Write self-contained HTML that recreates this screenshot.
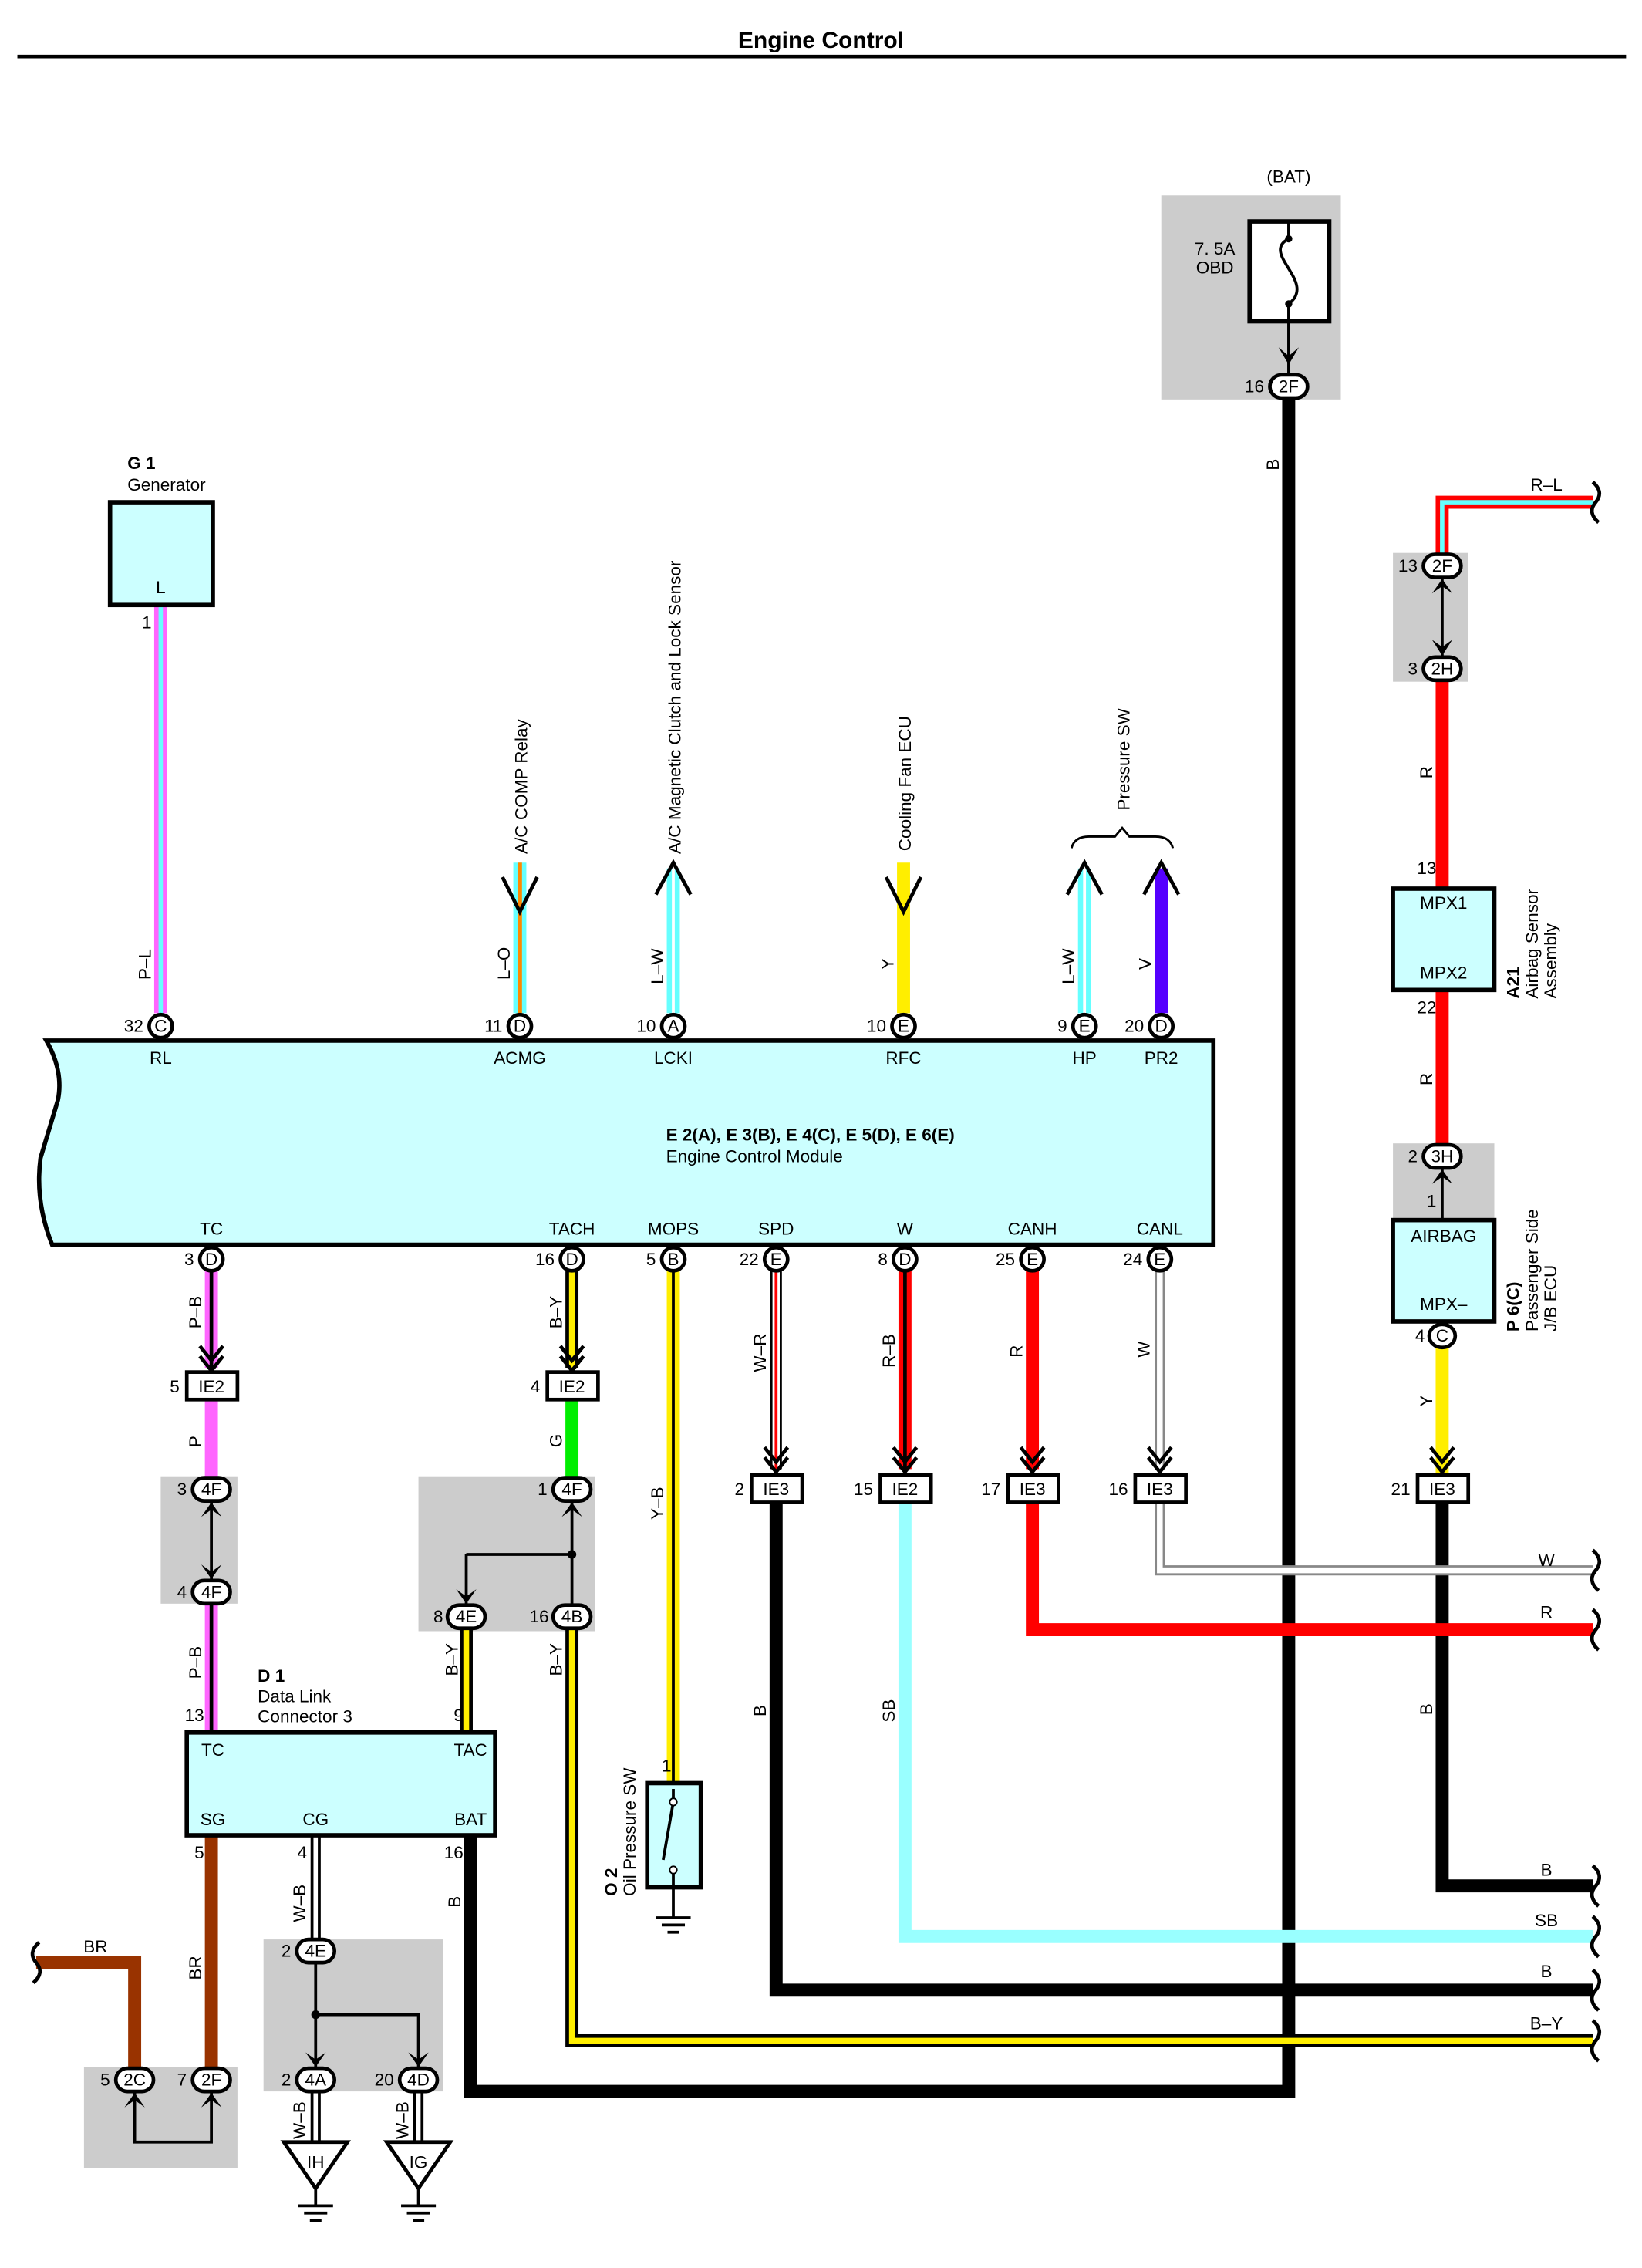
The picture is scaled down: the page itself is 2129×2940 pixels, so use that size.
<!DOCTYPE html>
<html><head><meta charset="utf-8"><style>
html,body{margin:0;padding:0;background:#fff;}
svg{display:block;}
text{font-family:"Liberation Sans",Arial,sans-serif;font-size:12px;fill:#000;}
.b{font-weight:bold;}
.m{text-anchor:middle;}
.pin{fill:#fff;stroke:#000;stroke-width:2.5;}
.box{fill:#ccffff;stroke:#000;stroke-width:3;}
.gray{fill:#cccccc;}
.ie{fill:#fff;stroke:#000;stroke-width:2.5;}
.ar{fill:none;stroke:#000;stroke-width:2.5;}
</style></head><body>
<svg width="2129" height="2940" viewBox="0 0 1134 1567" preserveAspectRatio="none" xmlns="http://www.w3.org/2000/svg">
<text x="567" y="33" class="b m" style="font-size:16px">Engine Control</text>
<line x1="12" y1="39" x2="1123" y2="39" stroke="#000" stroke-width="2.5"/>

<rect class="gray" x="802" y="135" width="124" height="141"/>
<rect class="gray" x="962" y="382" width="52" height="89"/>
<rect class="gray" x="962" y="790" width="70" height="52"/>
<rect class="gray" x="111" y="1020" width="53" height="88"/>
<rect class="gray" x="289" y="1020" width="122" height="107"/>
<rect class="gray" x="182" y="1340" width="124" height="105"/>
<rect class="gray" x="58" y="1428" width="106" height="70"/>

<g fill="none" stroke-linejoin="miter">
<path d="M890 272 V1445 H325 V1268" stroke="#000" stroke-width="9"/>
<path d="M1100 347 H996 V384" stroke="#ff0000" stroke-width="9"/>
<path d="M1100 347 H996 V384" stroke="#66ffff" stroke-width="3"/>
<path d="M996 470 V614 M996 684 V790" stroke="#ff0000" stroke-width="9"/>
<path d="M996 930 V1020" stroke="#ffee00" stroke-width="9"/>
<path d="M996 1036 V1303 H1100" stroke="#000" stroke-width="9"/>
<path d="M111 418 V700" stroke="#ff66ff" stroke-width="9"/>
<path d="M111 418 V700" stroke="#66ffff" stroke-width="3"/>
<path d="M359 596 V700" stroke="#66ffff" stroke-width="9"/>
<path d="M359 596 V700" stroke="#ff8800" stroke-width="3"/>
<path d="M465 600 V700 M749 600 V700" stroke="#66ffff" stroke-width="9"/>
<path d="M465 600 V700 M749 600 V700" stroke="#fff" stroke-width="2"/>
<path d="M624 596 V700" stroke="#ffee00" stroke-width="9"/>
<path d="M802 600 V700" stroke="#5500ff" stroke-width="9"/>
<path d="M146 878 V945 M146 1108 V1197" stroke="#ff66ff" stroke-width="9"/>
<path d="M146 878 V945 M146 1108 V1197" stroke="#000" stroke-width="2.5"/>
<path d="M146 967 V1020" stroke="#ff66ff" stroke-width="9"/>
<path d="M395 878 V945" stroke="#000" stroke-width="9"/>
<path d="M395 878 V945" stroke="#ffee00" stroke-width="4"/>
<path d="M395 967 V1020" stroke="#00ee00" stroke-width="9"/>
<path d="M322 1126 V1197 M395 1126 V1410 H1100" stroke="#000" stroke-width="9"/>
<path d="M322 1126 V1197 M395 1126 V1410 H1100" stroke="#ffee00" stroke-width="4"/>
<path d="M465 878 V1232" stroke="#ffee00" stroke-width="9"/>
<path d="M465 878 V1232" stroke="#000" stroke-width="2"/>
<path d="M536 878 V1015" stroke="#000" stroke-width="8"/>
<path d="M536 878 V1015" stroke="#fff" stroke-width="5"/>
<path d="M536 878 V1015" stroke="#ff0000" stroke-width="2"/>
<path d="M536 1036 V1375 H1100" stroke="#000" stroke-width="9"/>
<path d="M625 878 V1015" stroke="#ff0000" stroke-width="9"/>
<path d="M625 878 V1015" stroke="#000" stroke-width="2.5"/>
<path d="M625 1036 V1338 H1100" stroke="#99ffff" stroke-width="9"/>
<path d="M713 878 V1015 M713 1036 V1126 H1100" stroke="#ff0000" stroke-width="9"/>
<path d="M801 878 V1015 M801 1036 V1085 H1100" stroke="#888" stroke-width="7"/>
<path d="M801 878 V1015 M801 1036 V1085 H1100" stroke="#fff" stroke-width="4"/>
<path d="M146 1268 V1430 M93 1430 V1356 H25" stroke="#993300" stroke-width="9"/>
<path d="M218 1268 V1340 M218 1445 V1482 M289 1445 V1482" stroke="#000" stroke-width="7"/>
<path d="M218 1268 V1340 M218 1445 V1482 M289 1445 V1482" stroke="#fff" stroke-width="3"/>
<path d="M395 1038 V1108 M322 1074 H395 M322 1074 V1108" stroke="#000" stroke-width="2"/>
<path d="M218 1357 V1428 M218 1392 H289 V1428" stroke="#000" stroke-width="2"/>
<path d="M996 400 V453 M996 808 V843 M146 1038 V1091" stroke="#000" stroke-width="2"/>
<path d="M93 1446 V1480 H146 V1446" stroke="#000" stroke-width="2"/>
<path d="M890 222 V258" stroke="#000" stroke-width="2"/>
</g>
<circle cx="395" cy="1074" r="3"/><circle cx="218" cy="1392" r="3"/>

<g class="ar" stroke-width="2.5">
<path d="M347 606 L359 630 L371 606"/>
<path d="M612 606 L624 630 L636 606"/>
<path d="M453 618 L465 596 L477 618"/>
<path d="M737 618 L749 596 L761 618"/>
<path d="M790 618 L802 596 L814 618"/>
<path d="M740 586 Q742 578 752 578 H770 L775 572 L780 578 H798 Q808 578 810 586" stroke-width="1.5"/>
<path d="M138 930 L146 940 L154 930 M138 937 L146 947 L154 937"/>
<path d="M387 930 L395 940 L403 930 M387 937 L395 947 L403 937"/>
<path d="M528 1000 L536 1010 L544 1000 M528 1007 L536 1017 L544 1007"/>
<path d="M617 1000 L625 1010 L633 1000 M617 1007 L625 1017 L633 1007"/>
<path d="M705 1000 L713 1010 L721 1000 M705 1007 L713 1017 L721 1007"/>
<path d="M793 1000 L801 1010 L809 1000 M793 1007 L801 1017 L809 1007"/>
<path d="M988 1000 L996 1010 L1004 1000 M988 1007 L996 1017 L1004 1007"/>
</g>
<g fill="#000">
<path d="M883 240 L890 252 L897 240 L890 246Z"/>
<path d="M989 410 L996 400 L1003 410 L996 405Z M989 442 L996 453 L1003 442 L996 447Z"/>
<path d="M989 818 L996 808 L1003 818 L996 813Z"/>
<path d="M139 1048 L146 1038 L153 1048 L146 1043Z M139 1081 L146 1091 L153 1081 L146 1086Z"/>
<path d="M388 1048 L395 1038 L402 1048 L395 1043Z M315 1098 L322 1108 L329 1098 L322 1103Z"/>
<path d="M211 1418 L218 1428 L225 1418 L218 1423Z M282 1418 L289 1428 L296 1418 L289 1423Z"/>
<path d="M86 1456 L93 1446 L100 1456 L93 1451Z M139 1456 L146 1446 L153 1456 L146 1451Z"/>
</g>

<rect x="863" y="153" width="55" height="69" fill="#fff" stroke="#000" stroke-width="3"/>
<path d="M890 153 V165 M890 210 V222" stroke="#000" stroke-width="2"/>
<path d="M890 165 C 870 175, 910 195, 890 210" fill="none" stroke="#000" stroke-width="2"/>
<circle cx="890" cy="165" r="2.5"/><circle cx="890" cy="210" r="2.5"/>
<text x="890" y="126" class="m">(BAT)</text>
<text x="839" y="176" class="m">7. 5A</text><text x="839" y="189" class="m">OBD</text>

<path class="box" d="M32 719 H838 V860 H36 Q24 830 28 800 Q34 780 40 760 Q44 740 32 719Z"/>
<text x="460" y="788" class="b">E 2(A), E 3(B), E 4(C), E 5(D), E 6(E)</text>
<text x="460" y="803">Engine Control Module</text>
<g class="m">
<text x="111" y="735">RL</text><text x="359" y="735">ACMG</text><text x="465" y="735">LCKI</text>
<text x="624" y="735">RFC</text><text x="749" y="735">HP</text><text x="802" y="735">PR2</text>
<text x="146" y="853">TC</text><text x="395" y="853">TACH</text><text x="465" y="853">MOPS</text>
<text x="536" y="853">SPD</text><text x="625" y="853">W</text><text x="713" y="853">CANH</text><text x="801" y="853">CANL</text>
</g>

<rect class="box" x="76" y="347" width="71" height="71"/>
<text x="111" y="410" class="m">L</text>
<text x="88" y="324" class="b">G 1</text><text x="88" y="339">Generator</text>
<text x="98" y="434">1</text>
<rect class="box" x="962" y="614" width="70" height="70"/>
<text x="997" y="628" class="m">MPX1</text><text x="997" y="676" class="m">MPX2</text>
<rect class="box" x="962" y="843" width="70" height="70"/>
<text x="997" y="858" class="m">AIRBAG</text><text x="997" y="905" class="m">MPX–</text>
<rect class="box" x="129" y="1197" width="213" height="71"/>
<text x="147" y="1213" class="m">TC</text><text x="325" y="1213" class="m">TAC</text>
<text x="147" y="1261" class="m">SG</text><text x="218" y="1261" class="m">CG</text><text x="325" y="1261" class="m">BAT</text>
<text x="178" y="1162" class="b">D 1</text><text x="178" y="1176">Data Link</text><text x="178" y="1190">Connector 3</text>
<rect class="box" x="447" y="1232" width="37" height="72"/>
<path d="M465 1236 V1245 L458 1285 M465 1292 V1304 V1325" stroke="#000" stroke-width="2" fill="none"/>
<circle cx="465" cy="1245" r="2.5" fill="#fff" stroke="#000"/><circle cx="465" cy="1292" r="2.5" fill="#fff" stroke="#000"/>
<path d="M453 1325 H477 M457 1330 H473 M461 1335 H469" stroke="#000" stroke-width="2"/>
<text x="457" y="1224">1</text>
<text transform="translate(426 1310) rotate(-90)" class="b">O 2</text>
<text transform="translate(439 1310) rotate(-90)">Oil Pressure SW</text>
<g stroke="#000" stroke-width="2.5" fill="#fff">
<path d="M196 1480 H240 L218 1512Z"/><path d="M267 1480 H311 L289 1512Z"/>
</g>
<path d="M218 1512 V1524 M206 1524 H230 M210 1529 H226 M214 1534 H222 M289 1512 V1524 M277 1524 H301 M281 1529 H297 M285 1534 H293" stroke="#000" stroke-width="2"/>
<text x="218" y="1498" class="m">IH</text><text x="289" y="1498" class="m">IG</text>

<g fill="none" stroke="#000" stroke-width="2.5">
<path d="M1100 333 Q1108 340 1102 347 Q1096 354 1104 361"/>
<path d="M1100 1071 Q1108 1078 1102 1085 Q1096 1092 1104 1099"/>
<path d="M1100 1112 Q1108 1119 1102 1126 Q1096 1133 1104 1140"/>
<path d="M1100 1289 Q1108 1296 1102 1303 Q1096 1310 1104 1317"/>
<path d="M1100 1324 Q1108 1331 1102 1338 Q1096 1345 1104 1352"/>
<path d="M1100 1361 Q1108 1368 1102 1375 Q1096 1382 1104 1389"/>
<path d="M1100 1396 Q1108 1403 1102 1410 Q1096 1417 1104 1424"/>
<path d="M27 1342 Q19 1349 25 1356 Q31 1363 23 1370"/>
</g>

<g class="m">
<ellipse class="pin" cx="111" cy="709" rx="8" ry="8"/><text x="111" y="713">C</text>
<ellipse class="pin" cx="359" cy="709" rx="8" ry="8"/><text x="359" y="713">D</text>
<ellipse class="pin" cx="465" cy="709" rx="8" ry="8"/><text x="465" y="713">A</text>
<ellipse class="pin" cx="624" cy="709" rx="8" ry="8"/><text x="624" y="713">E</text>
<ellipse class="pin" cx="749" cy="709" rx="8" ry="8"/><text x="749" y="713">E</text>
<ellipse class="pin" cx="802" cy="709" rx="8" ry="8"/><text x="802" y="713">D</text>
<ellipse class="pin" cx="146" cy="870" rx="8" ry="8"/><text x="146" y="874">D</text>
<ellipse class="pin" cx="395" cy="870" rx="8" ry="8"/><text x="395" y="874">D</text>
<ellipse class="pin" cx="465" cy="870" rx="8" ry="8"/><text x="465" y="874">B</text>
<ellipse class="pin" cx="536" cy="870" rx="8" ry="8"/><text x="536" y="874">E</text>
<ellipse class="pin" cx="625" cy="870" rx="8" ry="8"/><text x="625" y="874">D</text>
<ellipse class="pin" cx="713" cy="870" rx="8" ry="8"/><text x="713" y="874">E</text>
<ellipse class="pin" cx="801" cy="870" rx="8" ry="8"/><text x="801" y="874">E</text>
<ellipse class="pin" cx="996" cy="923" rx="9" ry="8"/><text x="996" y="927">C</text>
<rect class="pin" x="877" y="259" width="26" height="16" rx="8"/><text x="890" y="271">2F</text>
<rect class="pin" x="983" y="383" width="26" height="16" rx="8"/><text x="996" y="395">2F</text>
<rect class="pin" x="983" y="454" width="26" height="16" rx="8"/><text x="996" y="466">2H</text>
<rect class="pin" x="983" y="791" width="26" height="16" rx="8"/><text x="996" y="803">3H</text>
<rect class="pin" x="133" y="1021" width="26" height="16" rx="8"/><text x="146" y="1033">4F</text>
<rect class="pin" x="133" y="1092" width="26" height="16" rx="8"/><text x="146" y="1104">4F</text>
<rect class="pin" x="382" y="1021" width="26" height="16" rx="8"/><text x="395" y="1033">4F</text>
<rect class="pin" x="309" y="1109" width="26" height="16" rx="8"/><text x="322" y="1121">4E</text>
<rect class="pin" x="382" y="1109" width="26" height="16" rx="8"/><text x="395" y="1121">4B</text>
<rect class="pin" x="205" y="1340" width="26" height="16" rx="8"/><text x="218" y="1352">4E</text>
<rect class="pin" x="205" y="1429" width="26" height="16" rx="8"/><text x="218" y="1441">4A</text>
<rect class="pin" x="276" y="1429" width="26" height="16" rx="8"/><text x="289" y="1441">4D</text>
<rect class="pin" x="80" y="1429" width="26" height="16" rx="8"/><text x="93" y="1441">2C</text>
<rect class="pin" x="133" y="1429" width="26" height="16" rx="8"/><text x="146" y="1441">2F</text>
<rect class="ie" x="129" y="948" width="35" height="19"/><text x="146" y="962">IE2</text>
<rect class="ie" x="378" y="948" width="35" height="19"/><text x="395" y="962">IE2</text>
<rect class="ie" x="519" y="1019" width="35" height="19"/><text x="536" y="1033">IE3</text>
<rect class="ie" x="608" y="1019" width="35" height="19"/><text x="625" y="1033">IE2</text>
<rect class="ie" x="696" y="1019" width="35" height="19"/><text x="713" y="1033">IE3</text>
<rect class="ie" x="784" y="1019" width="35" height="19"/><text x="801" y="1033">IE3</text>
<rect class="ie" x="979" y="1019" width="35" height="19"/><text x="996" y="1033">IE3</text>
</g>

<g style="text-anchor:end">
<text x="99" y="713">32</text><text x="347" y="713">11</text><text x="453" y="713">10</text>
<text x="612" y="713">10</text><text x="737" y="713">9</text><text x="790" y="713">20</text>
<text x="134" y="874">3</text><text x="383" y="874">16</text><text x="453" y="874">5</text>
<text x="524" y="874">22</text><text x="613" y="874">8</text><text x="701" y="874">25</text><text x="789" y="874">24</text>
<text x="873" y="271">16</text><text x="979" y="395">13</text><text x="979" y="466">3</text>
<text x="992" y="604">13</text><text x="992" y="700">22</text><text x="979" y="803">2</text><text x="992" y="834">1</text>
<text x="984" y="927">4</text>
<text x="124" y="962">5</text><text x="373" y="962">4</text>
<text x="514" y="1033">2</text><text x="603" y="1033">15</text><text x="691" y="1033">17</text><text x="779" y="1033">16</text><text x="974" y="1033">21</text>
<text x="129" y="1033">3</text><text x="129" y="1104">4</text><text x="378" y="1033">1</text>
<text x="306" y="1121">8</text><text x="379" y="1121">16</text>
<text x="141" y="1189">13</text><text x="320" y="1189">9</text>
<text x="141" y="1284">5</text><text x="212" y="1284">4</text><text x="320" y="1284">16</text>
<text x="201" y="1352">2</text><text x="201" y="1441">2</text><text x="272" y="1441">20</text>
<text x="76" y="1441">5</text><text x="129" y="1441">7</text>
</g>

<g class="m">
<text x="1068" y="339">R–L</text><text x="1068" y="1082">W</text><text x="1068" y="1118">R</text>
<text x="1068" y="1296">B</text><text x="1068" y="1331">SB</text><text x="1068" y="1366">B</text>
<text x="1068" y="1402">B–Y</text><text x="66" y="1349">BR</text>
</g>

<g>
<text transform="translate(883 325) rotate(-90)">B</text>
<text transform="translate(104 677) rotate(-90)">P–L</text>
<text transform="translate(352 677) rotate(-90)">L–O</text>
<text transform="translate(458 680) rotate(-90)">L–W</text>
<text transform="translate(617 670) rotate(-90)">Y</text>
<text transform="translate(742 680) rotate(-90)">L–W</text>
<text transform="translate(795 670) rotate(-90)">V</text>
<text transform="translate(364 590) rotate(-90)">A/C COMP Relay</text>
<text transform="translate(470 590) rotate(-90)">A/C Magnetic Clutch and Lock Sensor</text>
<text transform="translate(629 588) rotate(-90)">Cooling Fan ECU</text>
<text transform="translate(780 560) rotate(-90)">Pressure SW</text>
<text transform="translate(989 538) rotate(-90)">R</text>
<text transform="translate(989 750) rotate(-90)">R</text>
<text transform="translate(989 972) rotate(-90)">Y</text>
<text transform="translate(989 1185) rotate(-90)">B</text>
<text transform="translate(1049 690) rotate(-90)" class="b">A21</text>
<text transform="translate(1062 690) rotate(-90)">Airbag Sensor</text>
<text transform="translate(1075 690) rotate(-90)">Assembly</text>
<text transform="translate(1049 920) rotate(-90)" class="b">P 6(C)</text>
<text transform="translate(1062 920) rotate(-90)">Passenger Side</text>
<text transform="translate(1075 920) rotate(-90)">J/B ECU</text>
<text transform="translate(139 918) rotate(-90)">P–B</text>
<text transform="translate(139 1000) rotate(-90)">P</text>
<text transform="translate(139 1160) rotate(-90)">P–B</text>
<text transform="translate(388 918) rotate(-90)">B–Y</text>
<text transform="translate(388 1000) rotate(-90)">G</text>
<text transform="translate(316 1158) rotate(-90)">B–Y</text>
<text transform="translate(388 1158) rotate(-90)">B–Y</text>
<text transform="translate(458 1050) rotate(-90)">Y–B</text>
<text transform="translate(529 948) rotate(-90)">W–R</text>
<text transform="translate(618 945) rotate(-90)">R–B</text>
<text transform="translate(706 938) rotate(-90)">R</text>
<text transform="translate(794 938) rotate(-90)">W</text>
<text transform="translate(529 1186) rotate(-90)">B</text>
<text transform="translate(618 1190) rotate(-90)">SB</text>
<text transform="translate(139 1368) rotate(-90)">BR</text>
<text transform="translate(211 1328) rotate(-90)">W–B</text>
<text transform="translate(211 1478) rotate(-90)">W–B</text>
<text transform="translate(282 1478) rotate(-90)">W–B</text>
<text transform="translate(318 1318) rotate(-90)">B</text>
</g>
</svg>
</body></html>
